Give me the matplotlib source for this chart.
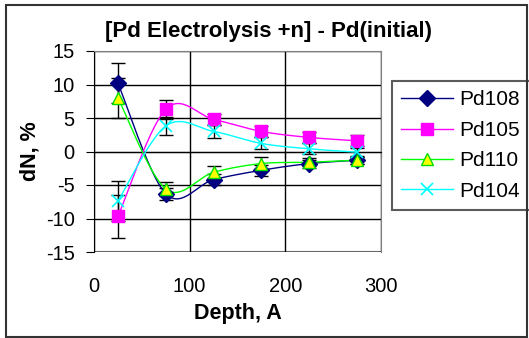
import matplotlib.pyplot as plt
import numpy as np
from matplotlib.patches import Rectangle

plt.rcParams['font.family'] = ['Liberation Sans', 'DejaVu Sans']
plt.rcParams['axes.unicode_minus'] = False

depth = [25, 75, 125, 175, 225, 275]

pd108 = [10.2, -6.3, -4.2, -2.8, -1.8, -1.3]
pd105 = [-9.7, 6.3, 4.8, 3.0, 2.1, 1.6]
pd110 = [8.0, -5.6, -3.1, -1.8, -1.6, -1.3]
pd104 = [-7.4, 3.8, 3.0, 1.2, 0.4, -0.1]

err108 = [3.0, 0.9, 0.8, 0.8, 0.6, 0.5]
err105 = [3.2, 1.4, 0.8, 0.8, 0.8, 0.8]
err110 = [3.0, 1.0, 0.9, 1.0, 0.6, 0.5]
err104 = [3.0, 1.4, 1.0, 0.9, 0.8, 0.6]


def smooth(xs, ys, n=30):
    # excel-like smoothed line: bezier segments through the points
    x = np.asarray(xs, float)
    y = np.asarray(ys, float)
    px = np.concatenate([[x[0]], x, [x[-1]]])
    py = np.concatenate([[y[0]], y, [y[-1]]])
    t = np.linspace(0, 1, n)[:, None]
    out = []
    for i in range(1, len(px) - 2):
        p0 = np.array([px[i], py[i]])
        p3 = np.array([px[i + 1], py[i + 1]])
        c1 = p0 + (np.array([px[i + 1], py[i + 1]]) - np.array([px[i - 1], py[i - 1]])) / 6
        c2 = p3 - (np.array([px[i + 2], py[i + 2]]) - np.array([px[i], py[i]])) / 6
        seg = ((1 - t) ** 3) * p0 + 3 * ((1 - t) ** 2) * t * c1 + 3 * (1 - t) * t ** 2 * c2 + t ** 3 * p3
        out.append(seg)
    seg = np.vstack(out)
    return seg[:, 0], seg[:, 1]


fig = plt.figure(figsize=(5.29, 3.38), dpi=100)
ax = fig.add_axes([94 / 529, 1 - 252 / 338, 287 / 529, 201 / 338])

series = [
    ('Pd108', pd108, err108, dict(marker='D', color='#000080', mfc='#000080', mec='#000080', ms=8)),
    ('Pd105', pd105, err105, dict(marker='s', color='#FF00FF', mfc='#FF00FF', mec='#FF00FF', ms=8.5)),
    ('Pd110', pd110, err110, dict(marker='^', color='#00FF00', mfc='#FFFF00', mec='#00DD00', ms=9)),
    ('Pd104', pd104, err104, dict(marker='x', color='#00FFFF', mfc='#00FFFF', mec='#00FFFF', ms=8, mew=1.2)),
]

for name, vals, err, st in series:
    ax.errorbar(depth, vals, yerr=err, fmt='none', ecolor='black', elinewidth=1, capsize=5, capthick=1, zorder=3)

for name, vals, err, st in series:
    sx, sy = smooth(depth, vals)
    ax.plot(sx, sy, color=st['color'], lw=1, zorder=4)
    ax.plot(depth, vals, ls='none', marker=st['marker'], mfc=st['mfc'], mec=st['mec'],
            ms=st['ms'], mew=st.get('mew', 1), zorder=5)
    # legend proxy
    ax.plot([], [], color=st['color'], lw=1, marker=st['marker'], mfc=st['mfc'], mec=st['mec'],
            ms=st['ms'], mew=st.get('mew', 1), label=name)

ax.set_xlim(0, 300)
ax.set_ylim(-15, 15)
ax.set_yticks([-15, -10, -5, 0, 5, 10, 15])
ax.set_xticks([0, 100, 200, 300])
ax.grid(True, color='black', lw=1, zorder=0)

for s in ['top', 'right']:
    ax.spines[s].set_color('#808080')
ax.spines['left'].set_color('black')
ax.spines['bottom'].set_position(('data', 0))
ax.spines['bottom'].set_color('black')
ax.tick_params(axis='x', direction='out', length=4, labelbottom=False, color='black')
ax.tick_params(axis='y', direction='out', length=6, labelsize=14.5, pad=8)
ax.axhline(-15, color='#808080', lw=1.5, zorder=1)

sec = ax.secondary_xaxis('bottom')
sec.set_xticks([0, 100, 200, 300])
sec.tick_params(length=0, labelsize=14.5, pad=18)
sec.spines['bottom'].set_visible(False)

ax.set_ylabel('dN, %', fontsize=15.5, fontweight='bold', labelpad=4)
sec.set_xlabel('Depth, A', fontsize=15.5, fontweight='bold', labelpad=5)
fig.text(0.507, 1 - 31 / 338, '[Pd Electrolysis +n] - Pd(initial)', ha='center', va='center',
         fontsize=16, fontweight='bold')

leg = ax.legend(loc='upper left', bbox_to_anchor=(392 / 529, 1 - 81 / 338), bbox_transform=fig.transFigure,
                fontsize=15, frameon=True, fancybox=False, borderaxespad=0, handlelength=2.5,
                handletextpad=0.3, labelspacing=0.55, borderpad=0.45)
leg.get_frame().set_edgecolor('#333333')
leg.get_frame().set_linewidth(1.5)

fig.patches.append(Rectangle((6 / 529, 0.004), 521 / 529, 0.98, transform=fig.transFigure,
                             fill=False, edgecolor='#333333', lw=1.5))

fig.savefig('out.png', dpi=100)
